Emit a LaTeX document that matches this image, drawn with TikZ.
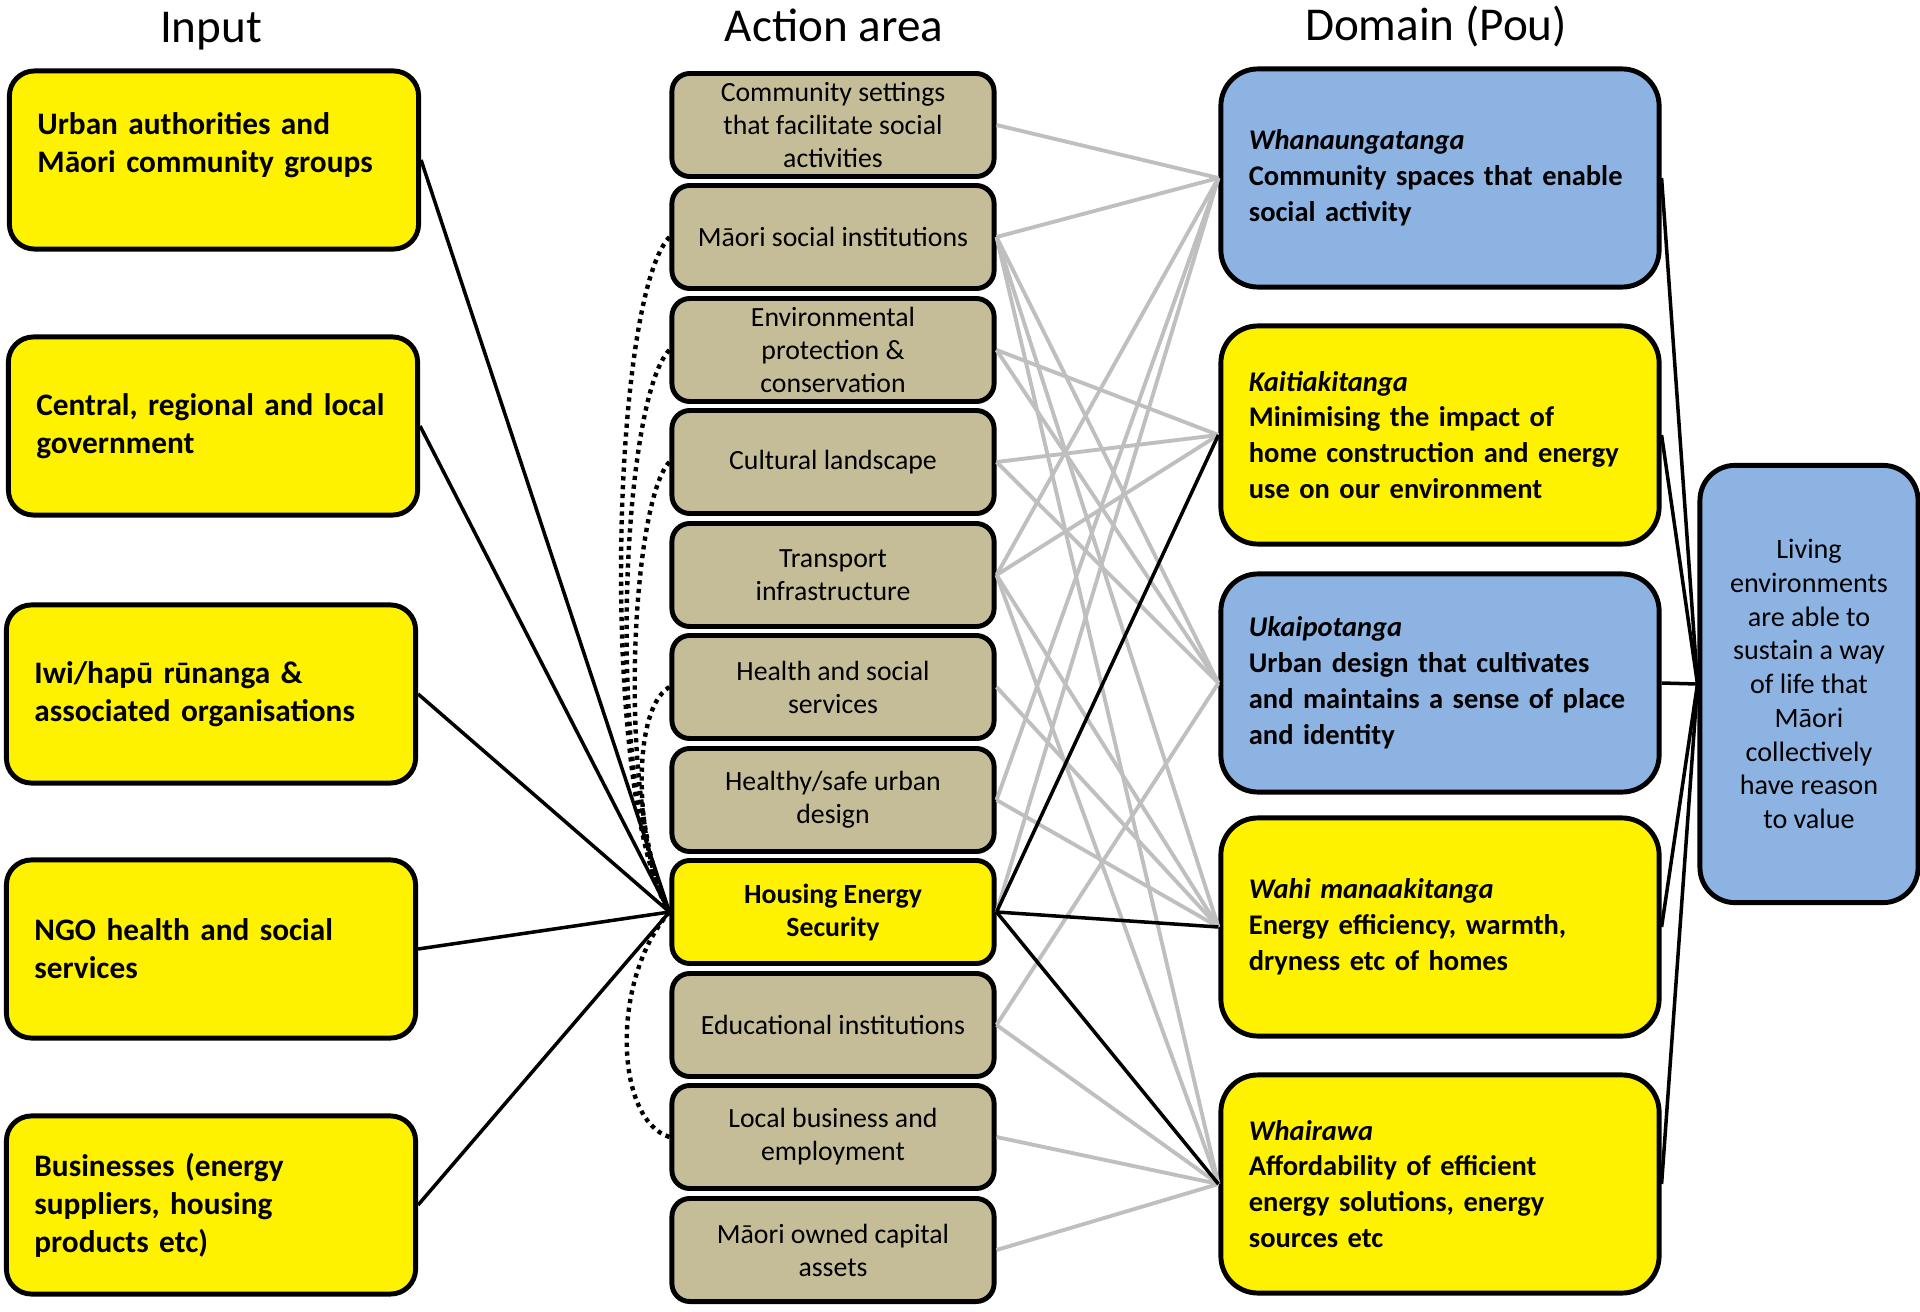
\documentclass[tikz,border=0pt]{standalone}
\usepackage{fontspec}
\setmainfont{Carlito}
\usetikzlibrary{positioning}

\definecolor{tanbox}{HTML}{C4BD97}
\definecolor{bluebox}{HTML}{8DB3E2}
\definecolor{linkgray}{HTML}{BFBFBF}

\begin{document}
\begin{tikzpicture}[x=0.01cm, y=-0.01cm,
    inputbox/.style={draw, line width=1.4pt, fill=yellow, rounded corners=0.25cm,
        minimum width=4.09cm, minimum height=1.78cm, text width=3.53cm, inner xsep=0.28cm,
        align=left, font=\fontsize{8.9}{10.8}\selectfont\bfseries},
    actbox/.style={draw, line width=1.4pt, fill=tanbox, rounded corners=0.18cm,
        minimum width=3.22cm, minimum height=1.03cm, inner sep=0pt, align=center,
        font=\fontsize{7.9}{9.4}\selectfont},
    poubox/.style={draw, line width=1.4pt, rounded corners=0.37cm,
        minimum width=4.38cm, minimum height=2.18cm, text width=3.82cm, inner xsep=0.28cm,
        align=left, font=\fontsize{8.1}{10.2}\selectfont\bfseries},
    heading/.style={font=\fontsize{13.4}{16}\selectfont},
    graylink/.style={linkgray, line width=1.1pt},
    blacklink/.style={black, line width=1pt},
    dotlink/.style={black, line width=1.25pt, dash pattern=on 1.2pt off 1.3pt}
]
    \useasboundingbox (0,0) rectangle (1920,1312);

    % column headings
    \node[heading] (hinput)  at (211,31)  {Input};
    \node[heading] (haction) at (834,25)  {Action area};
    \node[heading] (hdomain) at (1436,27) {Domain (Pou)};

    % inputs
    \node[inputbox] (in1) at (214,160)  {Urban authorities and\\Māori community groups\\[-1pt]~};
    \node[inputbox] (in2) at (213,426)  {Central, regional and local\\government};
    \node[inputbox] (in3) at (211,694)  {Iwi/hapū rūnanga \&\\associated organisations};
    \node[inputbox] (in4) at (211,949)  {NGO health and social\\services};
    \node[inputbox] (in5) at (211,1205) {Businesses (energy\\suppliers, housing\\products etc)};

    % action areas
    \node[actbox] (a1)  at (833,125)  {Community settings\\that facilitate social\\activities};
    \node[actbox] (a2)  at (833,237)  {Māori social institutions};
    \node[actbox] (a3)  at (833,350)  {Environmental\\protection \&\\conservation};
    \node[actbox] (a4)  at (833,462)  {Cultural landscape};
    \node[actbox] (a5)  at (833,575)  {Transport\\infrastructure};
    \node[actbox] (a6)  at (833,687)  {Health and social\\services};
    \node[actbox] (a7)  at (833,800)  {Healthy/safe urban\\design};
    \node[actbox, fill=yellow, font=\fontsize{7.9}{9.4}\selectfont\bfseries]
                  (a8)  at (833,912)  {Housing Energy\\Security};
    \node[actbox] (a9)  at (833,1025) {Educational institutions};
    \node[actbox] (a10) at (833,1137) {Local business and\\employment};
    \node[actbox] (a11) at (833,1250) {Māori owned capital\\assets};

    % domains (pou)
    \node[poubox, fill=bluebox] (d1) at (1440,178)
        {\textit{Whanaungatanga}\\Community spaces that enable\\social activity};
    \node[poubox, fill=yellow] (d2) at (1440,435)
        {\textit{Kaitiakitanga}\\Minimising the impact of\\home construction and energy\\use on our environment};
    \node[poubox, fill=bluebox] (d3) at (1440,683)
        {\textit{Ukaipotanga}\\Urban design that cultivates\\and maintains a sense of place\\and identity};
    \node[poubox, fill=yellow] (d4) at (1440,927)
        {\textit{Wahi manaakitanga}\\Energy efficiency, warmth,\\dryness etc of homes};
    \node[poubox, fill=yellow] (d5) at (1440,1184)
        {\textit{Whairawa}\\Affordability of efficient\\energy solutions, energy\\sources etc};

    % outcome
    \node[draw, line width=1.4pt, fill=bluebox, rounded corners=0.35cm,
          minimum width=2.18cm, minimum height=4.37cm, align=center,
          font=\fontsize{8}{9.6}\selectfont] (goal) at (1809,684)
        {Living\\environments\\are able to\\sustain a way\\of life that\\Māori\\collectively\\have reason\\to value};

    % action areas feeding the pou
    \foreach \s/\t in {a1/d1, a2/d1, a2/d3, a2/d4, a2/d5, a3/d2, a3/d3, a4/d2, a4/d3,
                       a5/d1, a5/d2, a5/d4, a5/d5, a6/d4, a7/d1, a7/d4, a8/d1,
                       a9/d3, a9/d5, a10/d5, a11/d5}
        \draw[graylink] (\s.east) -- (\t.west);

    % inputs into housing energy security
    \foreach \n in {1,...,5}
        \draw[blacklink] (in\n.east) -- (a8.west);

    % housing energy security to its pou
    \foreach \t in {d2,d4,d5}
        \draw[blacklink] (a8.east) -- (\t.west);

    % pou to outcome
    \foreach \t in {d1,d2,d3,d4,d5}
        \draw[blacklink] (\t.east) -- (goal.west);

    % dotted links between action areas
    \draw[dotlink] (a2.west)  .. controls (610,300)  and (600,800) .. (a8.west);
    \draw[dotlink] (a3.west)  .. controls (620,400)  and (605,800) .. (a8.west);
    \draw[dotlink] (a4.west)  .. controls (632,500)  and (615,800) .. (a8.west);
    \draw[dotlink] (a6.west)  .. controls (630,710)  and (635,850) .. (a8.west);
    \draw[dotlink] (a10.west) .. controls (615,1120) and (610,980) .. (a8.west);
\end{tikzpicture}
\end{document}
